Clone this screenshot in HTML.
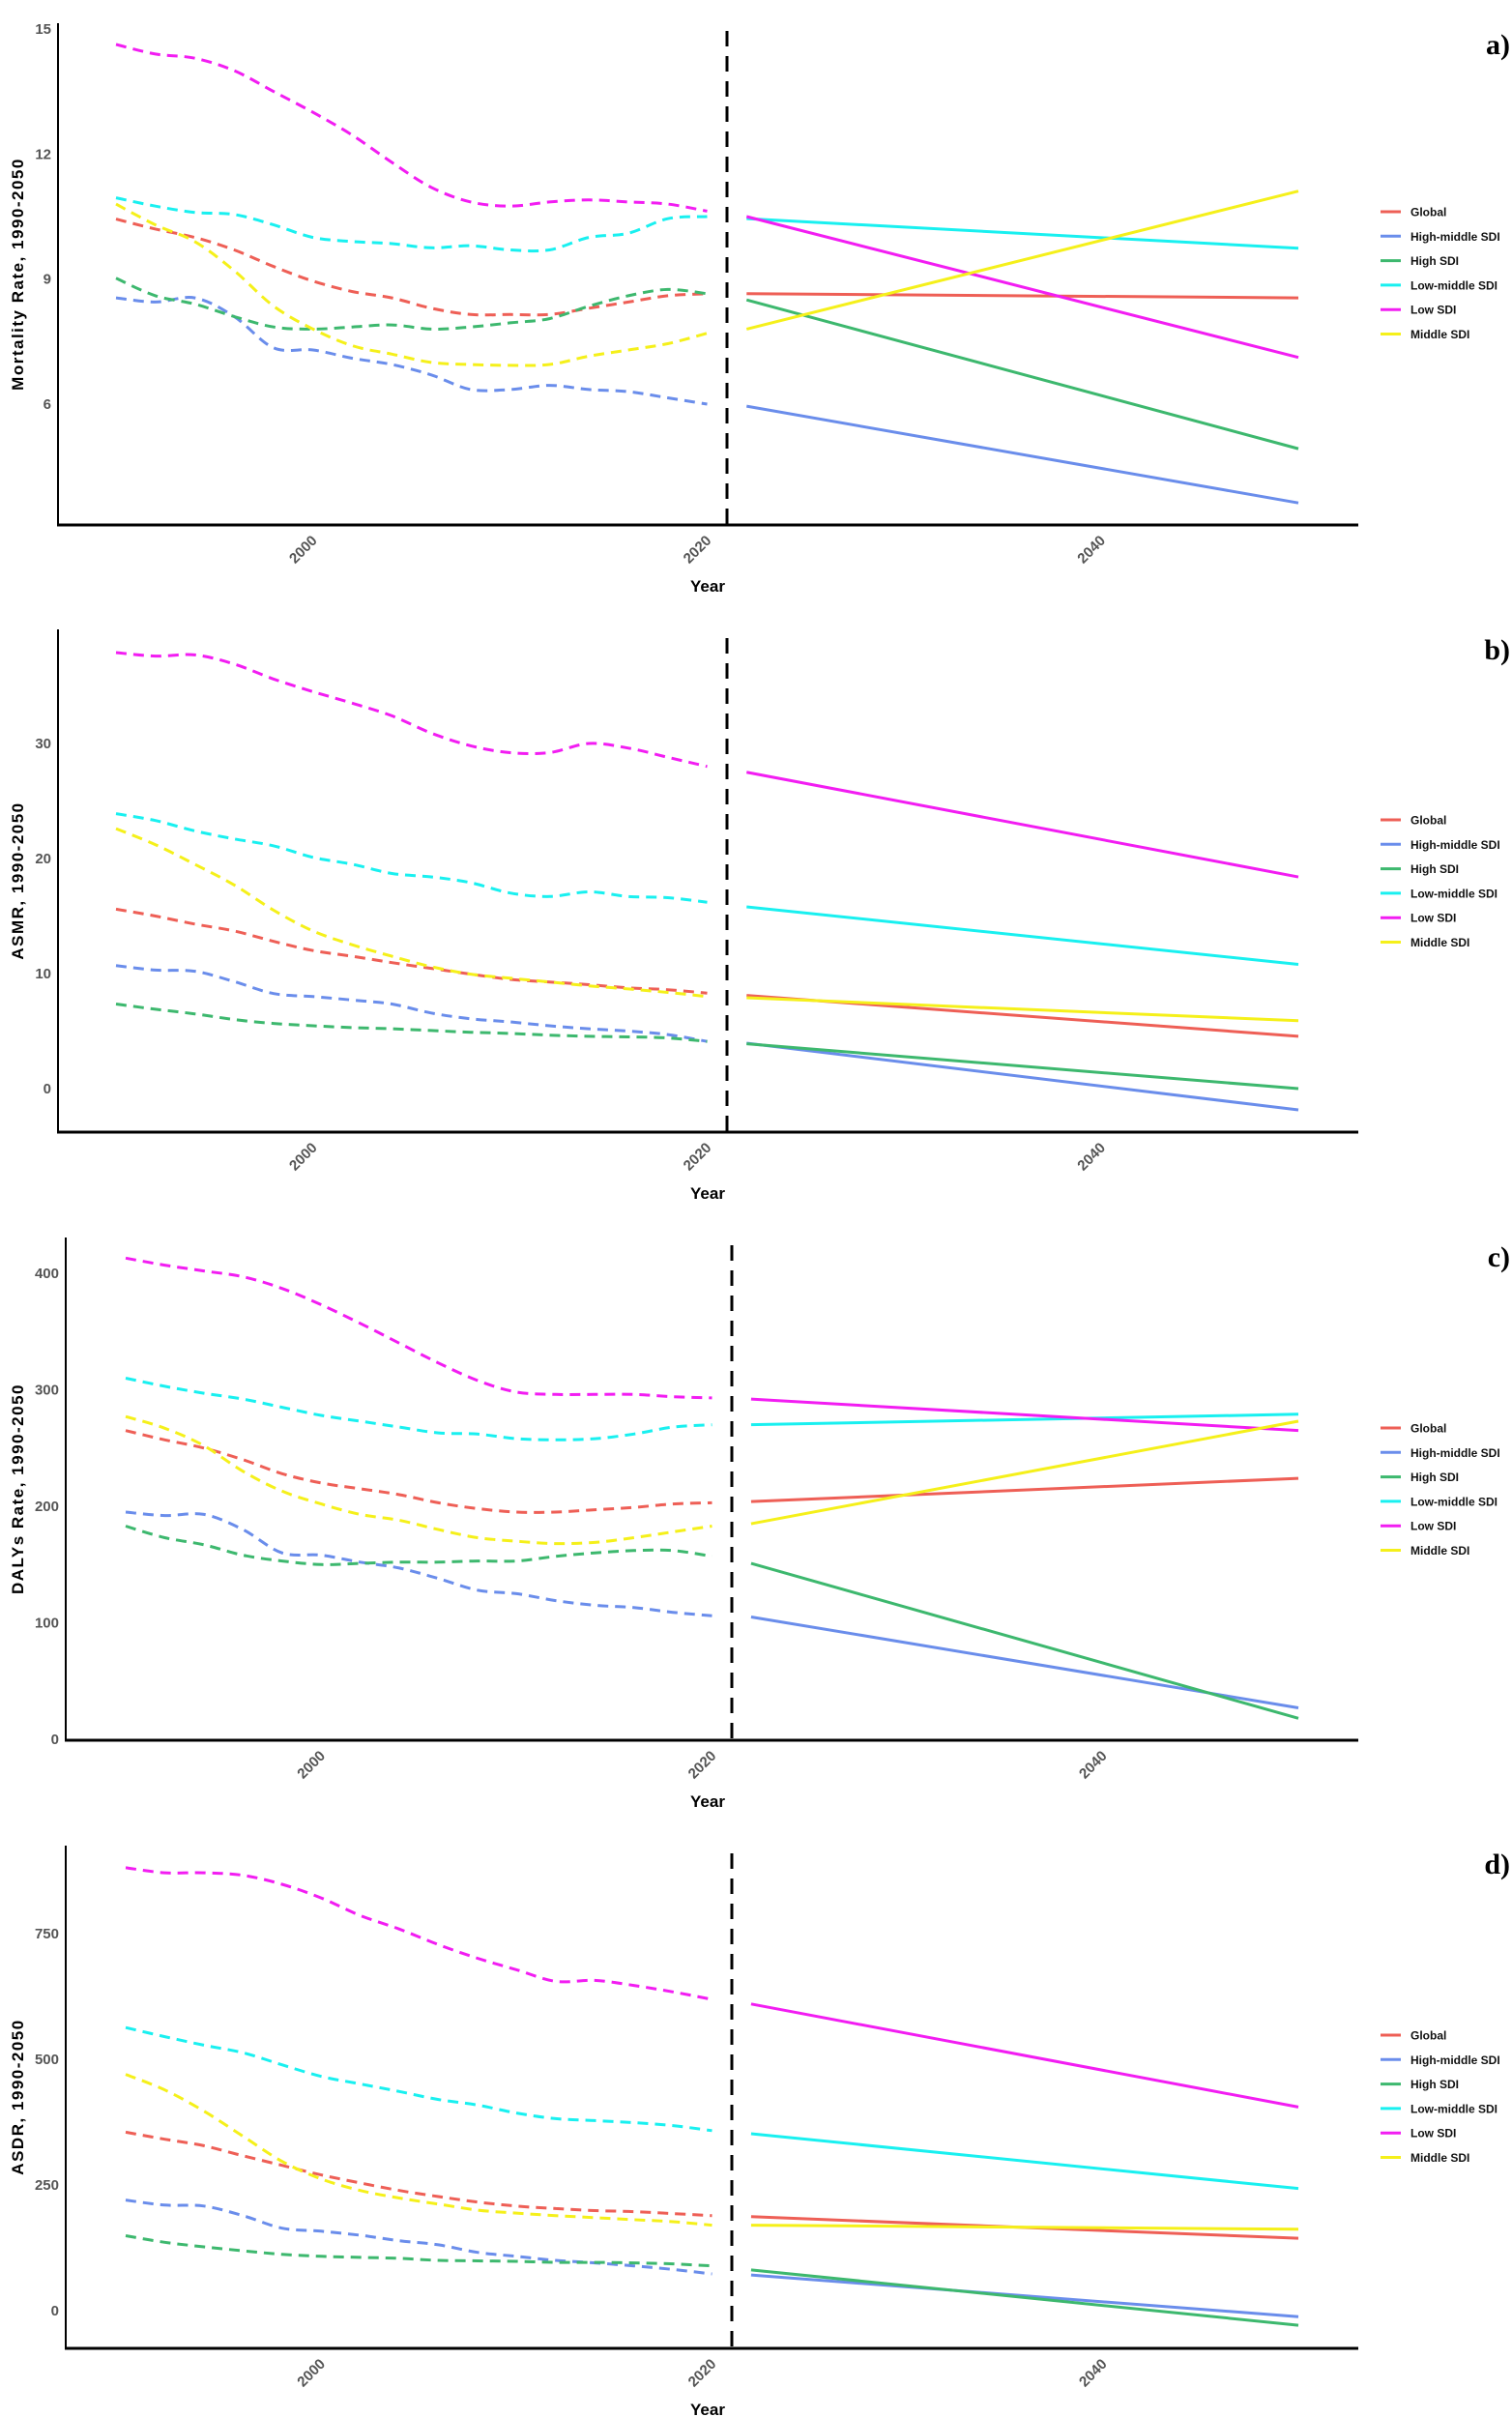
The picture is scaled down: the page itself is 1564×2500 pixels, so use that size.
<!DOCTYPE html>
<html><head><meta charset="utf-8">
<style>
html,body{margin:0;padding:0;background:#fff;}
svg{display:block;font-family:"Liberation Sans",Arial,sans-serif;}
.tick{fill:#555;font-size:15px;font-weight:bold;}
.ytitle{fill:#000;font-size:17px;font-weight:bold;letter-spacing:1.5px;}
.xtitle{fill:#000;font-size:17px;font-weight:bold;}
.leg{fill:#111;font-size:12px;font-weight:bold;}
.plab{fill:#000;font-size:30px;font-weight:bold;font-family:"Liberation Serif",serif;}
</style></head>
<body>
<svg id="chart" width="1564" height="2500" viewBox="0 0 1564 2500" xmlns="http://www.w3.org/2000/svg"></svg>
<script>
// ---- data ----
const histYears = [1990,1992,1994,1996,1998,2000,2002,2004,2006,2008,2010,2012,2014,2016,2018,2020];
const foreYears = [2022,2050];
const seriesNames = ["Global","High-middle SDI","High SDI","Low-middle SDI","Low SDI","Middle SDI"];
const seriesColors = ["#EE5F56","#6A8DEB","#3DB86E","#19F0F0","#F21DF2","#F5F01A"];
const xTickLabels = [2000,2020,2040];

// Panel a: Mortality rate
const aGlobal = [10.44,10.2,10.0,9.7,9.3,8.95,8.7,8.55,8.3,8.15,8.15,8.15,8.3,8.45,8.6,8.65];
const aHighMiddle = [8.55,8.45,8.55,8.1,7.35,7.3,7.1,6.95,6.7,6.35,6.35,6.45,6.35,6.3,6.15,6.0];
const aHigh = [9.02,8.6,8.4,8.1,7.85,7.8,7.85,7.9,7.8,7.85,7.95,8.05,8.35,8.6,8.75,8.65];
const aLowMiddle = [10.95,10.75,10.6,10.55,10.3,10.0,9.9,9.85,9.75,9.8,9.7,9.7,10.0,10.1,10.45,10.5];
const aLow = [14.63,14.4,14.3,14.0,13.5,13.0,12.45,11.8,11.2,10.85,10.75,10.85,10.9,10.85,10.8,10.63];
const aMiddle = [10.8,10.3,9.9,9.2,8.35,7.8,7.4,7.2,7.0,6.95,6.93,6.95,7.15,7.3,7.45,7.7];
const aForecast = [[8.65,8.55],[5.95,3.63],[8.5,4.93],[10.45,9.74],[10.5,7.12],[7.8,11.11]];
const aTicks = [6,9,12,15];

// Panel b: ASMR
const bGlobal = [15.6,15.0,14.3,13.7,12.8,12.0,11.5,10.95,10.45,9.95,9.5,9.27,9.03,8.76,8.6,8.3];
const bHighMiddle = [10.7,10.3,10.2,9.3,8.26,8.0,7.7,7.35,6.57,6.07,5.8,5.46,5.2,5.0,4.7,4.1];
const bHigh = [7.35,6.9,6.5,6.0,5.66,5.46,5.3,5.2,5.05,4.9,4.8,4.65,4.55,4.5,4.4,4.1];
const bLowMiddle = [23.9,23.3,22.4,21.7,21.1,20.1,19.5,18.7,18.4,17.9,17.0,16.7,17.1,16.7,16.6,16.2];
const bLow = [37.9,37.6,37.7,36.9,35.6,34.5,33.5,32.4,30.9,29.8,29.2,29.2,30.0,29.6,28.8,28.0];
const bMiddle = [22.6,21.2,19.5,17.7,15.5,13.7,12.5,11.5,10.6,9.95,9.6,9.27,8.93,8.66,8.36,8.0];
const bForecast = [[8.1,4.55],[3.95,-1.85],[3.9,0.0],[15.8,10.8],[27.5,18.4],[7.9,5.9]];
const bTicks = [0,10,20,30];

// Panel c: DALYs rate
const cGlobal = [265,257,250,240,228,220,215,210,203,198,195,195,197,199,202,203];
const cHighMiddle = [195,192,193,180,160,158,152,147,138,128,125,119,115,113,109,106];
const cHigh = [183,173,167,158,153,150,151,152,152,153,153,157,160,162,162,157];
const cLowMiddle = [310,303,297,292,285,278,273,268,263,262,258,257,258,262,268,270];
const cLow = [413,407,402,397,387,373,357,340,323,308,298,296,296,296,294,293];
const cMiddle = [277,267,252,230,213,202,193,188,180,173,170,168,169,173,178,183];
const cForecast = [[204,224],[105,27],[151,18],[270,279],[292,265],[185,273]];
const cTicks = [0,100,200,300,400];

// Panel d: ASDR
const dGlobal = [355,341,328,308,289,270,254,239,227,216,208,203,199,197,193,189];
const dHighMiddle = [220,210,208,189,164,158,150,139,131,116,108,100,95,89,82,73];
const dHigh = [149,136,127,119,112,108,106,104,100,99,98,96,96,95,93,89];
const dLowMiddle = [563,545,528,513,489,466,451,436,420,409,393,382,378,374,368,358];
const dLow = [881,871,871,866,848,821,786,759,728,701,678,655,657,647,634,619];
const dMiddle = [470,439,397,347,297,262,239,224,212,200,194,189,185,181,177,170];
const dForecast = [[187,144],[71,-12],[81,-29],[352,243],[610,405],[170,162]];
const dTicks = [0,250,500,750];

const panels = [
  {id:"a", title:"Mortality Rate, 1990-2050", hist:[aGlobal,aHighMiddle,aHigh,aLowMiddle,aLow,aMiddle], fore:aForecast, ticks:aTicks,
   left:60, top:24, bottom:543, x0:120, x1:1343, v0:15, p0:30, v1:6, p1:418, vx:752, vtop:32, legY:219, labY:56},
  {id:"b", title:"ASMR, 1990-2050", hist:[bGlobal,bHighMiddle,bHigh,bLowMiddle,bLow,bMiddle], fore:bForecast, ticks:bTicks,
   left:60, top:651, bottom:1171, x0:120, x1:1343, v0:30, p0:769, v1:0, p1:1126, vx:752, vtop:660, legY:848, labY:682},
  {id:"c", title:"DALYs Rate, 1990-2050", hist:[cGlobal,cHighMiddle,cHigh,cLowMiddle,cLow,cMiddle], fore:cForecast, ticks:cTicks,
   left:68, top:1280, bottom:1800, x0:130, x1:1343, v0:400, p0:1317, v1:0, p1:1799, vx:757, vtop:1288, legY:1477, labY:1310},
  {id:"d", title:"ASDR, 1990-2050", hist:[dGlobal,dHighMiddle,dHigh,dLowMiddle,dLow,dMiddle], fore:dForecast, ticks:dTicks,
   left:68, top:1909, bottom:2429, x0:130, x1:1343, v0:750, p0:2000, v1:0, p1:2390, vx:757, vtop:1917, legY:2105, labY:1938}
];

const NS = "http://www.w3.org/2000/svg";
const svg = document.getElementById("chart");
function mk(tag, attrs, parent){
  const e = document.createElementNS(NS, tag);
  for (const k in attrs) e.setAttribute(k, attrs[k]);
  (parent||svg).appendChild(e);
  return e;
}
function smoothPath(pts){
  let d = "M" + pts[0][0].toFixed(1) + "," + pts[0][1].toFixed(1);
  for (let i=0;i<pts.length-1;i++){
    const p0 = pts[i-1]||pts[i], p1 = pts[i], p2 = pts[i+1], p3 = pts[i+2]||p2;
    const c1x = p1[0]+(p2[0]-p0[0])/6, c1y = p1[1]+(p2[1]-p0[1])/6;
    const c2x = p2[0]-(p3[0]-p1[0])/6, c2y = p2[1]-(p3[1]-p1[1])/6;
    d += " C"+c1x.toFixed(1)+","+c1y.toFixed(1)+" "+c2x.toFixed(1)+","+c2y.toFixed(1)+" "+p2[0].toFixed(1)+","+p2[1].toFixed(1);
  }
  return d;
}

panels.forEach(P => {
  const g = mk("g", {});
  
  
  const xs = yr => P.x0 + (yr-1990)*(P.x1-P.x0)/60;
  const ys = v => P.p0 + (v-P.v0)*(P.p1-P.p0)/(P.v1-P.v0);

  // axes
  const ya = mk("line", {x1:P.left, y1:P.top, x2:P.left, y2:P.bottom, stroke:"#000", "stroke-width":2}, g);
  
  
  const xa = mk("line", {x1:P.left-1, y1:P.bottom, x2:1405, y2:P.bottom, stroke:"#000", "stroke-width":3}, g);
  
  

  // y ticks
  P.ticks.forEach(t => {
    const tx = mk("text", {x:P.left-7, y:ys(t)+5, "text-anchor":"end", class:"tick"}, g);
    tx.textContent = t;
    
    
  });
  // x ticks
  xTickLabels.forEach(t => {
    const x = xs(t), y = P.bottom + 17;
    const tx = mk("text", {x:x+5, y:y, "text-anchor":"end", class:"tick", transform:"rotate(-45 "+(x+5)+" "+y+")"}, g);
    tx.textContent = t;
    
    
  });
  const xt = mk("text", {x:732, y:P.bottom+69, "text-anchor":"middle", class:"xtitle"}, g);
  xt.textContent = "Year";
  
  
  const cy = (P.top+P.bottom)/2;
  const yt = mk("text", {x:24, y:cy, "text-anchor":"middle", class:"ytitle", transform:"rotate(-90 24 "+cy+")"}, g);
  yt.textContent = P.title;
  
  
  const pl = mk("text", {x:1562, y:P.labY, "text-anchor":"end", class:"plab"}, g);
  pl.textContent = P.id + ")";
  
  

  // series
  P.hist.forEach((vals, si) => {
    const pts = histYears.map((yr,i)=>[xs(yr), ys(vals[i])]);
    const p = mk("path", {d:smoothPath(pts), fill:"none", stroke:seriesColors[si], "stroke-width":3, "stroke-dasharray":"11 7"}, g);
    
    
    const f = P.fore[si];
    const l = mk("line", {x1:xs(foreYears[0]), y1:ys(f[0]), x2:xs(foreYears[1]), y2:ys(f[1]), stroke:seriesColors[si], "stroke-width":3}, g);
    
    
  });

  // divider
  const vl = mk("line", {x1:P.vx, y1:P.vtop, x2:P.vx, y2:P.bottom, stroke:"#000", "stroke-width":3, "stroke-dasharray":"16 10"}, g);
  
  

  // legend
  seriesNames.forEach((n, si) => {
    const y = P.legY + si*25.3;
    const lg = mk("g", {}, g);
    
    
    mk("line", {x1:1428, y1:y, x2:1449, y2:y, stroke:seriesColors[si], "stroke-width":3}, lg);
    const tx = mk("text", {x:1459, y:y+4.5, class:"leg"}, lg);
    tx.textContent = n;
  });
});
</script>
</body></html>
